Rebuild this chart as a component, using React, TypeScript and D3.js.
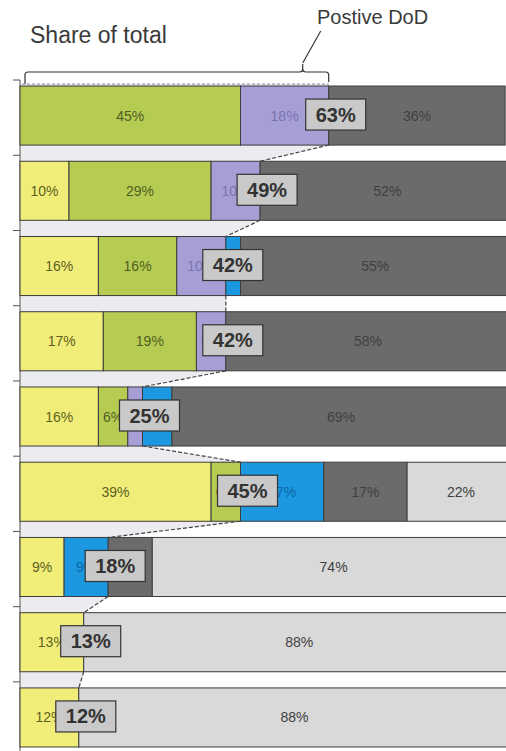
import React from "react";
import * as d3 from "d3";

const rows = ["r1", "r2", "r3", "r4", "r5", "r6", "r7", "r8", "r9"];
const seriesNames = ["yellow", "green", "purple", "blue", "darkgray", "lightgray"];
const yellowVals = [0, 10, 16, 17, 16, 39, 9, 13, 12];
const greenVals = [45, 29, 16, 19, 6, 6, 0, 0, 0];
const purpleVals = [18, 10, 10, 6, 3, 0, 0, 0, 0];
const blueVals = [0, 0, 3, 0, 6, 17, 9, 0, 0];
const darkGrayVals = [36, 52, 55, 58, 69, 17, 9, 0, 0];
const lightGrayVals = [0, 0, 0, 0, 0, 22, 74, 88, 88];
const positiveDoD = [63, 49, 42, 42, 25, 45, 18, 13, 12];
const titleText = "Share of total";
const braceLabel = "Postive DoD";

const seriesValues = [yellowVals, greenVals, purpleVals, blueVals, darkGrayVals, lightGrayVals];
const fills: Record<string, string> = {
  yellow: "#f0ee78",
  green: "#b6cb52",
  purple: "#a69fd6",
  blue: "#1b98e0",
  darkgray: "#6b6b6b",
  lightgray: "#d9d9d9",
};
const textFills: Record<string, string> = {
  yellow: "#5f5f22",
  green: "#4f5e22",
  purple: "#7c74ae",
  blue: "#1066a8",
  darkgray: "#404040",
  lightgray: "#404040",
};

const W = 506;
const H = 751;
const FONT = "'Liberation Sans', Arial, Helvetica, sans-serif";

export default function App() {
  const x = d3.scaleLinear().domain([0, 100]).range([20, 510]);
  const y = d3
    .scaleBand<number>()
    .domain(rows.map((_, i) => i))
    .range([80, 753])
    .paddingInner(0.215)
    .paddingOuter(0.08);
  const bw = y.bandwidth();
  const step = y.step();
  const off = step * 0.08;

  const stackData = rows.map((_, i) => {
    const o: Record<string, number> = {};
    seriesNames.forEach((s, k) => (o[s] = seriesValues[k][i]));
    return o;
  });
  const stacked = d3.stack<Record<string, number>>().keys(seriesNames)(stackData);

  // connector polygon
  const topY = (y(0) as number) - 2;
  const pts: [number, number][] = [[x(0), topY], [x(positiveDoD[0]), topY]];
  rows.forEach((_, i) => {
    const t = y(i) as number;
    pts.push([x(positiveDoD[i]), t]);
    pts.push([x(positiveDoD[i]), t + bw]);
  });
  pts.push([x(0), (y(rows.length - 1) as number) + bw]);
  const polyLine = d3.line();

  const bx0 = x(0) + 5;
  const bx1 = x(positiveDoD[0]);
  const notch = bx1 - 26;
  const by = 72;
  const r = 3;
  const bracePath = `M${bx0},86 L${bx0},${by + r} Q${bx0},${by} ${bx0 + r},${by} L${notch - r},${by} Q${notch},${by} ${notch},${by - r} L${notch},${by - 8} M${notch},${by - r} Q${notch},${by} ${notch + r},${by} L${bx1 - r},${by} Q${bx1},${by} ${bx1},${by + r} L${bx1},82`;

  return (
    <svg
      width={W}
      height={H}
      style={{ position: "absolute", left: 0, top: 0, background: "#fff" }}
      fontFamily={FONT}
    >
      <text x={30} y={43} fontSize={23} fill="#3a3a3a">
        {titleText}
      </text>
      <text x={317} y={24} fontSize={20} fill="#3a3a3a">
        {braceLabel}
      </text>
      <path d={bracePath} fill="none" stroke="#333" strokeWidth={1.2} />
      <line x1={notch} y1={by - 9} x2={notch + 18} y2={31} stroke="#333" strokeWidth={1.2} />

      <path d={polyLine(pts) + "Z"} fill="#ebebf0" />
      <line x1={x(0) + 2} y1={topY} x2={x(positiveDoD[0])} y2={topY} stroke="#8a8aa6" strokeDasharray="3,2" strokeWidth={1.2} />

      {/* axis */}
      <line x1={20} y1={80} x2={20} y2={H} stroke="#555" strokeWidth={1} />
      {rows.map((_, i) => (
        <line key={i} x1={13} x2={20} y1={(y(i) as number) - off} y2={(y(i) as number) - off} stroke="#555" strokeWidth={1} />
      ))}

      {stacked.map((layer) => (
        <g key={layer.key}>
          {layer.map((d, i) =>
            d[1] - d[0] > 0 ? (
              <rect
                key={i}
                x={x(d[0])}
                y={y(i) as number}
                width={x(d[1]) - x(d[0])}
                height={bw}
                fill={fills[layer.key]}
                stroke="#3c3c3c"
                strokeWidth={1}
              />
            ) : null
          )}
        </g>
      ))}

      {/* dashed connectors */}
      {rows.slice(0, -1).map((_, i) => (
        <line
          key={i}
          x1={x(positiveDoD[i])}
          y1={(y(i) as number) + bw}
          x2={x(positiveDoD[i + 1])}
          y2={y(i + 1) as number}
          stroke="#444"
          strokeWidth={1.2}
          strokeDasharray="4,2"
        />
      ))}

      {stacked.map((layer) => (
        <g key={"t" + layer.key}>
          {layer.map((d, i) =>
            d[1] - d[0] > 0 ? (
              <text
                key={i}
                x={(x(d[0]) + x(d[1])) / 2}
                y={(y(i) as number) + bw / 2 + 5}
                textAnchor="middle"
                fontSize={14}
                fill={textFills[layer.key]}
              >
                {`${d[1] - d[0]}%`}
              </text>
            ) : null
          )}
        </g>
      ))}

      {positiveDoD.map((v, i) => {
        const cx = Math.max(x(v) + 7, 79.5);
        const cy = (y(i) as number) + bw / 2 - 1;
        return (
          <g key={"b" + i}>
            <rect x={cx - 30} y={cy - 15.5} width={60} height={31} fill="#c9c9c9" stroke="#333" strokeWidth={1.2} />
            <text x={cx} y={cy + 7} textAnchor="middle" fontSize={20} fontWeight="bold" fill="#333">
              {`${v}%`}
            </text>
          </g>
        );
      })}
    </svg>
  );
}
